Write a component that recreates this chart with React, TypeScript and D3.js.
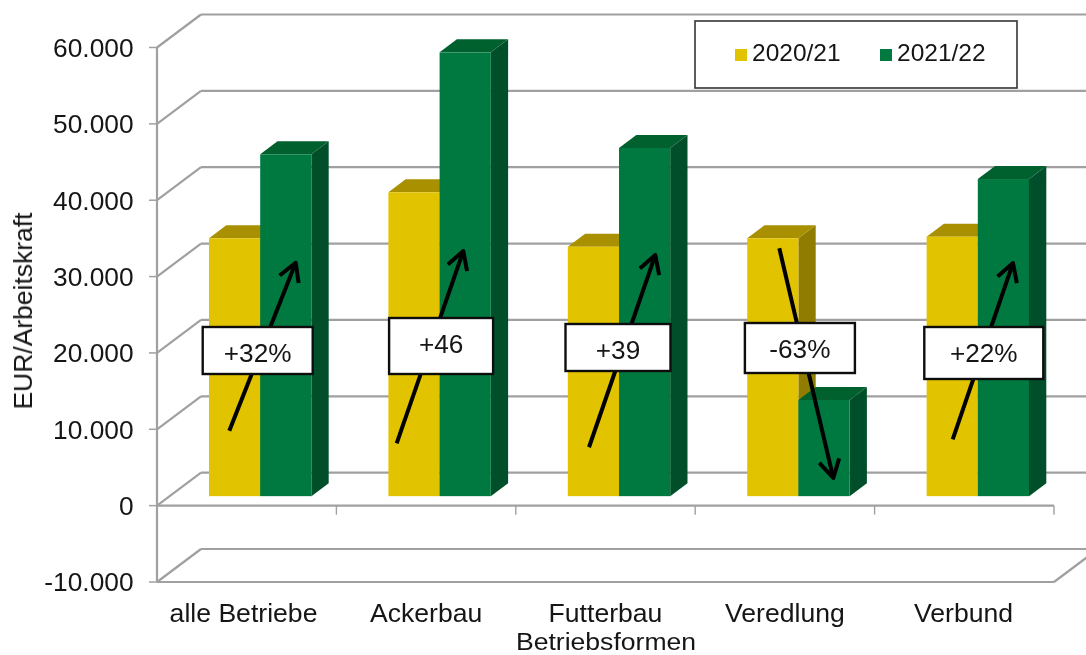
import React from "react";
import * as d3 from "d3";

const categories = ["alle Betriebe", "Ackerbau", "Futterbau", "Veredlung", "Verbund"];
const series2021 = [33770, 39790, 32670, 33770, 33980];
const series2122 = [44770, 58120, 45600, 12590, 41530];
const yTicks = [-10000, 0, 10000, 20000, 30000, 40000, 50000, 60000];
const yTickLabels = ["-10.000", "0", "10.000", "20.000", "30.000", "40.000", "50.000", "60.000"];
const changeLabels = ["+32%", "+46", "+39", "-63%", "+22%"];
const arrowFrom = [8570, 6920, 6400, 32460, 7440];
const arrowTo = [30570, 32100, 31580, 2380, 30530];
const seriesNames = ["2020/21", "2021/22"];

const FONT = "'Liberation Sans', Arial, sans-serif";
const GRID = "#a0a0a0";
const TEXT = "#141414";
const COLORS = [
  { front: "#e2c300", top: "#a89000", side: "#8f7c00" },
  { front: "#02793f", top: "#01602f", side: "#004f29" },
];

// layout (annotation placement relative to each category)
const arrowDx = [[-17.4, 49], [-29.4, 37.2], [-16.5, 49.8], [-5.6, 48.4], [-11.6, 48.7]];
const boxes = [
  [-44, 66, 327, 374], [-37, 67, 318, 374], [-40, 65, 324, 371], [-40, 70, 323, 373], [-40, 79, 327, 379],
];
const boxBaselines = [361.7, 353, 359, 358, 361.7];
const labelDx = [-3.2, 0, 0, 0, -0.8];

const x = d3.scaleBand<string>().domain(categories).range([157, 1054]);
const y = d3.scaleLinear().domain([-10000, 60000]).range([582, 47.5]);
const backDx = 44, backDy = -33, barDx = 13.5, barDy = -9.5, depthDx = 17.3, depthDy = -13, barW = 51.2;
const poly = (p: number[][]) => p.map((q) => q.join(",")).join(" ");

function Bar({ left, value, c }: { left: number; value: number; c: typeof COLORS[0] }) {
  const top = y(value) + barDy, base = y(0) + barDy, right = left + barW;
  return (
    <g>
      <polygon fill={c.side} points={poly([[right, top], [right + depthDx, top + depthDy], [right + depthDx, base + depthDy], [right, base]])} />
      <polygon fill={c.top} points={poly([[left, top], [left + depthDx, top + depthDy], [right + depthDx, top + depthDy], [right, top]])} />
      <rect x={left} y={top} width={barW} height={base - top} fill={c.front} />
    </g>
  );
}

export default function App() {
  const x0 = x.range()[0], x1 = x.range()[1];
  const center = (c: string) => (x(c) as number) + x.bandwidth() / 2;
  return (
    <svg width={1086} height={655} style={{ position: "absolute", left: 0, top: 0, background: "#fff" }} fontFamily={FONT}>
      <defs>
        <filter id="soft" x="-5%" y="-5%" width="110%" height="110%"><feGaussianBlur stdDeviation="0.4" /></filter>
      </defs>
      <g filter="url(#soft)">
        {yTicks.map((t) => (
          <g key={t} stroke={GRID} strokeWidth={2.2} fill="none">
            <line x1={x0} y1={y(t)} x2={x0 + backDx} y2={y(t) + backDy} />
            <line x1={x0 + backDx} y1={y(t) + backDy} x2={1086} y2={y(t) + backDy} />
            <line x1={x0 - 8} y1={y(t)} x2={x0} y2={y(t)} strokeWidth={1.5} />
          </g>
        ))}
        <line x1={x0} y1={y(60000)} x2={x0} y2={y(-10000)} stroke={GRID} strokeWidth={2.2} />
        <line x1={x0} y1={y(0)} x2={x1} y2={y(0)} stroke={GRID} strokeWidth={2.2} />
        <line x1={x0} y1={y(-10000)} x2={x1} y2={y(-10000)} stroke={GRID} strokeWidth={2.2} />
        <line x1={x1} y1={y(-10000)} x2={x1 + backDx} y2={y(-10000) + backDy} stroke={GRID} strokeWidth={2.2} />
        {categories.map((_, i) => i + 1).map((i) => (
          <line key={i} x1={x0 + i * x.bandwidth()} x2={x0 + i * x.bandwidth()} y1={y(0)} y2={y(0) + 9} stroke={GRID} strokeWidth={1.4} />
        ))}
        {categories.map((c, i) => (
          <g key={c}>
            <Bar left={center(c) + barDx - barW} value={series2021[i]} c={COLORS[0]} />
            <Bar left={center(c) + barDx} value={series2122[i]} c={COLORS[1]} />
          </g>
        ))}
        {categories.map((c, i) => {
          const xa = center(c) + arrowDx[i][0], ya = y(arrowFrom[i]) + barDy;
          const xb = center(c) + arrowDx[i][1], yb = y(arrowTo[i]) + barDy;
          const ang = Math.atan2(yb - ya, xb - xa), h = 20.5, sp = 0.52;
          const [bx, by, cx, cy] = [
            xb - h * Math.cos(ang - sp), yb - h * Math.sin(ang - sp),
            xb - h * Math.cos(ang + sp), yb - h * Math.sin(ang + sp),
          ];
          const b = boxes[i];
          return (
            <g key={c}>
              <line x1={xa} y1={ya} x2={xb} y2={yb} stroke="#000" strokeWidth={4} />
              <polyline points={poly([[bx, by], [xb, yb], [cx, cy]])} fill="none" stroke="#000" strokeWidth={4} strokeLinejoin="round" />
              <rect x={center(c) + b[0]} y={b[2]} width={b[1] - b[0]} height={b[3] - b[2]} fill="#fff" stroke="#111" strokeWidth={2.4} />
              <text x={center(c) + (b[0] + b[1]) / 2} y={boxBaselines[i]} textAnchor="middle" fontSize={26.2} fill={TEXT}>{changeLabels[i]}</text>
            </g>
          );
        })}
        {yTicks.map((t, i) => (
          <text key={t} transform={`translate(133.6,${y(t) + 9.3}) scale(1.033,1)`} textAnchor="end" fontSize={25.5} fill={TEXT}>{yTickLabels[i]}</text>
        ))}
        {categories.map((c, i) => (
          <text key={c} transform={`translate(${center(c) + labelDx[i]},621.5) scale(1.043,1)`} textAnchor="middle" fontSize={25.5} fill={TEXT}>{c}</text>
        ))}
        <text transform="translate(606,649.6) scale(1.085,1)" textAnchor="middle" fontSize={24.5} fill={TEXT}>Betriebsformen</text>
        <text transform="translate(32,311) rotate(-90) scale(1.038,1)" textAnchor="middle" fontSize={25.5} fill={TEXT}>EUR/Arbeitskraft</text>
        <rect x={695} y={21} width={322} height={67} fill="#fff" stroke="#333" strokeWidth={1.6} />
        {seriesNames.map((s, i) => (
          <g key={s}>
            <rect x={735 + i * 145} y={49} width={12} height={12} fill={COLORS[i].front} />
            <text x={752 + i * 145} y={61.3} fontSize={24.5} fill={TEXT}>{s}</text>
          </g>
        ))}
      </g>
    </svg>
  );
}
